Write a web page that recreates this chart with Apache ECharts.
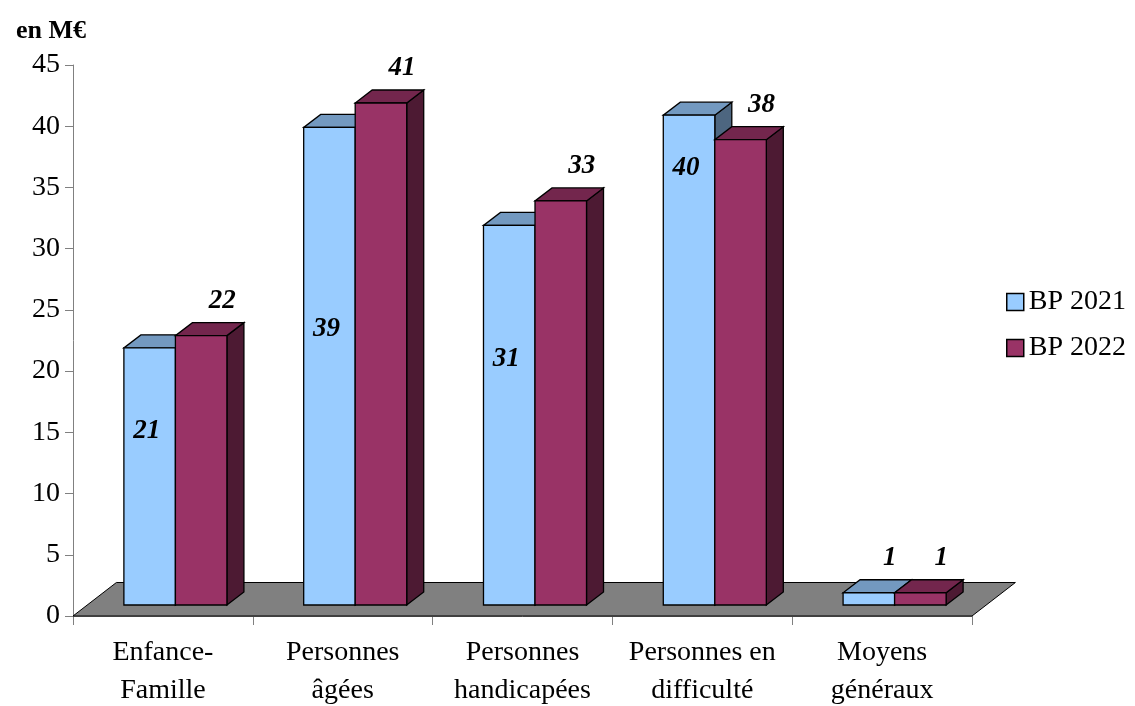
<!DOCTYPE html>
<html>
<head>
<meta charset="utf-8">
<script src="https://cdn.jsdelivr.net/npm/echarts@6/dist/echarts.min.js"></script>
<style>
  html, body { margin: 0; padding: 0; background: #ffffff; }
  #chart { width: 1135px; height: 706px; }
</style>
</head>
<body>
<div id="chart"></div>
<script>
// Budget par politique, en millions d'euros
const categories = ['Enfance-\nFamille', 'Personnes\nâgées', 'Personnes\nhandicapées', 'Personnes en\ndifficulté', 'Moyens\ngénéraux'];
const bp2021 = [21, 39, 31, 40, 1];
const bp2022 = [22, 41, 33, 38, 1];
const seriesNames = ['BP 2021', 'BP 2022'];
const yMin = 0, yMax = 45, yStep = 5;

// Height (in axis units) at which the BP 2021 labels sit inside their bar; null = above the bar
const insideLabelLevel = [14.2, 22.5, 20.1, 35.7, null];

const FONT = '"Liberation Serif", "Times New Roman", serif';
const FRONT_SHIFT = [12.5, -11];   // bar front plane, relative to the axis plane
const BAR_DEPTH = [17, -13];       // receding edge of each bar
const FLOOR_DEPTH = [43.4, -33.5]; // receding edge of the floor
const BAR_RATIO = 0.2865;          // one bar's width as a share of a category slot

const palettes = [
  { front: '#99CCFF', top: '#7399C0', side: '#4D6680' },
  { front: '#993366', top: '#73264D', side: '#4D1A33' }
];
const outline = { stroke: '#000000', lineWidth: 1.3 };

function barRenderer(seriesIdx) {
  const pal = palettes[seriesIdx];
  return function (params, api) {
    const i = api.value(0);
    const v = api.value(1);
    const base = api.coord([i, 0]);
    const top = api.coord([i, v]);
    const w = api.size([1, 0])[0] * BAR_RATIO;
    const pairCx = base[0] + FRONT_SHIFT[0];
    const x0 = seriesIdx === 0 ? pairCx - w : pairCx;
    const x1 = x0 + w;
    const yb = base[1] + FRONT_SHIFT[1];
    const yt = top[1] + FRONT_SHIFT[1];
    const dx = BAR_DEPTH[0], dy = BAR_DEPTH[1];

    const children = [
      { type: 'polygon', shape: { points: [[x1, yb], [x1 + dx, yb + dy], [x1 + dx, yt + dy], [x1, yt]] },
        style: Object.assign({ fill: pal.side }, outline) },
      { type: 'polygon', shape: { points: [[x0, yt], [x1, yt], [x1 + dx, yt + dy], [x0 + dx, yt + dy]] },
        style: Object.assign({ fill: pal.top }, outline) },
      { type: 'polygon', shape: { points: [[x0, yb], [x1, yb], [x1, yt], [x0, yt]] },
        style: Object.assign({ fill: pal.front }, outline) }
    ];

    const level = seriesIdx === 0 ? insideLabelLevel[i] : null;
    let lx, ly;
    if (level != null) {
      lx = (x0 + x1) / 2 - 3;
      ly = api.coord([i, level])[1] + FRONT_SHIFT[1];
    } else {
      lx = (x0 + x1) / 2 + dx + 4;
      ly = yt + dy - 22;
    }
    children.push({
      type: 'text',
      z2: 10,
      style: {
        x: lx, y: ly,
        text: String(v),
        fill: '#000000',
        font: 'italic bold 27px ' + FONT,
        align: 'center',
        verticalAlign: 'middle'
      }
    });
    return { type: 'group', children: children };
  };
}

function floorRenderer(params, api) {
  const cs = params.coordSys;
  const y0 = api.coord([0, 0])[1];
  const xl = cs.x, xr = cs.x + cs.width;
  const [fx, fy] = FLOOR_DEPTH;
  return {
    type: 'polygon',
    shape: { points: [[xl, y0], [xr, y0], [xr + fx, y0 + fy], [xl + fx, y0 + fy]] },
    style: { fill: '#808080', stroke: '#000000', lineWidth: 1 }
  };
}

const chart = echarts.init(document.getElementById('chart'), null, { renderer: 'canvas' });

chart.setOption({
  animation: false,
  backgroundColor: '#ffffff',
  title: {
    text: 'en M€',
    left: 11,
    top: 11,
    textStyle: { fontFamily: FONT, fontSize: 26, fontWeight: 'bold', color: '#000000', lineHeight: 30 }
  },
  grid: { left: 73, right: 163, top: 65, bottom: 90, containLabel: false, outerBoundsMode: 'none' },
  legend: {
    orient: 'vertical',
    left: 1006,
    top: 288,
    itemWidth: 17,
    itemHeight: 17,
    itemGap: 18,
    icon: 'rect',
    padding: 0,
    textStyle: { fontFamily: FONT, fontSize: 28, color: '#000000', lineHeight: 28 },
    data: seriesNames.map((n, k) => ({
      name: n,
      itemStyle: { color: palettes[k].front, borderColor: '#000000', borderWidth: 1.5 }
    }))
  },
  xAxis: {
    type: 'category',
    data: categories,
    boundaryGap: true,
    axisLine: { show: true, lineStyle: { color: '#808080', width: 1 } },
    axisTick: { show: true, length: 9, lineStyle: { color: '#808080' } },
    axisLabel: { interval: 0, margin: 18, fontFamily: FONT, fontSize: 28, lineHeight: 38, color: '#000000' },
    splitLine: { show: false }
  },
  yAxis: {
    type: 'value',
    min: yMin,
    max: yMax,
    interval: yStep,
    axisLine: { show: true, lineStyle: { color: '#808080', width: 1 } },
    axisTick: { show: true, length: 8, lineStyle: { color: '#808080' } },
    axisLabel: { margin: 13, fontFamily: FONT, fontSize: 28, color: '#000000' },
    splitLine: { show: false }
  },
  series: [
    {
      type: 'custom',
      name: 'floor',
      clip: false,
      silent: true,
      z: 1,
      data: [[0, 0]],
      encode: { x: 0, y: 1 },
      renderItem: floorRenderer
    },
    {
      type: 'custom',
      name: seriesNames[0],
      clip: false,
      z: 2,
      itemStyle: { color: palettes[0].front },
      data: bp2021.map((v, i) => [i, v]),
      encode: { x: 0, y: 1 },
      renderItem: barRenderer(0)
    },
    {
      type: 'custom',
      name: seriesNames[1],
      clip: false,
      z: 3,
      itemStyle: { color: palettes[1].front },
      data: bp2022.map((v, i) => [i, v]),
      encode: { x: 0, y: 1 },
      renderItem: barRenderer(1)
    }
  ]
});
</script>
</body>
</html>
